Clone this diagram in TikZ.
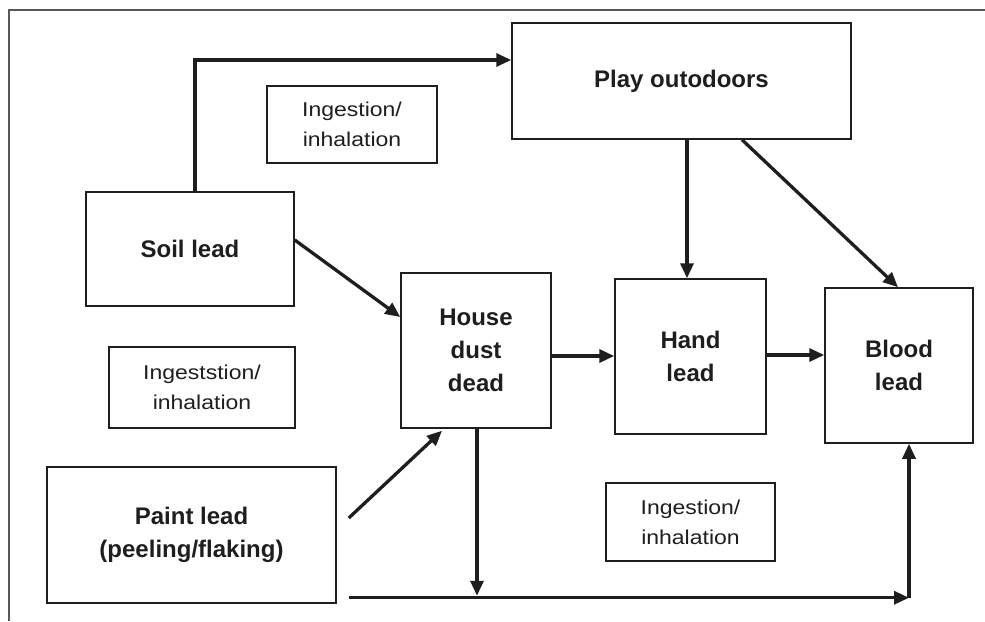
\documentclass[tikz,border=0pt]{standalone}
\usepackage{fontspec}
\setmainfont{Liberation Sans}
\newfontfamily\notefont[FakeStretch=1.15]{Liberation Sans}
\usetikzlibrary{arrows.meta,calc}

\definecolor{ink}{HTML}{1E1E1E}

\begin{document}
\begin{tikzpicture}[x=1pt,y=-1pt,
  box/.style={draw=ink, line width=1.5pt, rectangle, inner sep=0pt, align=center,
    text=ink, font=\fontsize{24}{33}\selectfont\bfseries},
  note/.style={draw=ink, line width=1.3pt, rectangle, inner sep=0pt, align=center,
    text=ink, font=\notefont\fontsize{20}{30}\selectfont},
  flow/.style={draw=ink, line width=3.3pt, -{Triangle[length=15pt,width=13pt]}},
  frameline/.style={draw=black!65, line width=1.2pt}]
\useasboundingbox (0,0) rectangle (985,621);

% outer frame (top and left edges)
\draw[frameline] (985,10) -- (9,10) -- (9,621);

% pathway boxes
\node[box, minimum width=339pt, minimum height=116pt] (play)  at (681.5,81)  {Play outodoors};
\node[box, minimum width=208pt, minimum height=114pt] (soil)  at (190,249)   {Soil lead};
\node[box, minimum width=150pt, minimum height=155pt] (dust)  at (476,350.5) {House\\dust\\dead};
\node[box, minimum width=151pt, minimum height=155pt] (hand)  at (690.5,356.5) {Hand\\lead};
\node[box, minimum width=148pt, minimum height=155pt] (blood) at (899,365.5) {Blood\\lead};
\node[box, minimum width=289pt, minimum height=136pt] (paint) at (191.5,535) {Paint lead\\(peeling/flaking)};

% route notes
\node[note, minimum width=170pt, minimum height=77pt] (ingtop)   at (352,124.5) {Ingestion/\\inhalation};
\node[note, minimum width=186pt, minimum height=81pt] (ingleft)  at (202,387.5) {Ingeststion/\\inhalation};
\node[note, minimum width=169pt, minimum height=78pt] (ingright) at (690.5,522) {Ingestion/\\inhalation};

% free ends of the lower connectors
\coordinate (pstart) at ($(paint.east)+(12,-17)$);
\coordinate (lstart) at ($(paint.south east)+(12,-6)$);
\coordinate (corner) at ($(blood.south)+(10,154)$);
\coordinate (drop)   at ($(dust.south)+(1,167)$);

% connectors
\draw[flow] ($(soil.north)+(5,0)$) |- ($(play.west)+(0,-21)$);
\draw[flow] ($(soil.east)+(0,-9)$) -- ($(dust.west)+(0,-33.5)$);
\draw[flow] ($(play.south)+(5.5,0)$) -- ($(hand.north)+(-3.5,0)$);
\draw[flow] ($(play.south)+(60.5,0)$) -- ($(blood.north)+(-1,0)$);
\draw[flow] ($(dust.east)+(0,5.5)$) -- ($(hand.west)+(0,-0.5)$);
\draw[flow] ($(hand.east)+(0,-1.5)$) -- ($(blood.west)+(0,-10.5)$);
\draw[flow] (pstart) -- ($(dust.south)+(-34,2)$);
\draw[flow] ($(dust.south)+(1,0)$) -- (drop);
\draw[flow] (lstart) -- (corner);
\draw[flow] (corner) -- ($(blood.south)+(10,0)$);
\end{tikzpicture}
\end{document}
